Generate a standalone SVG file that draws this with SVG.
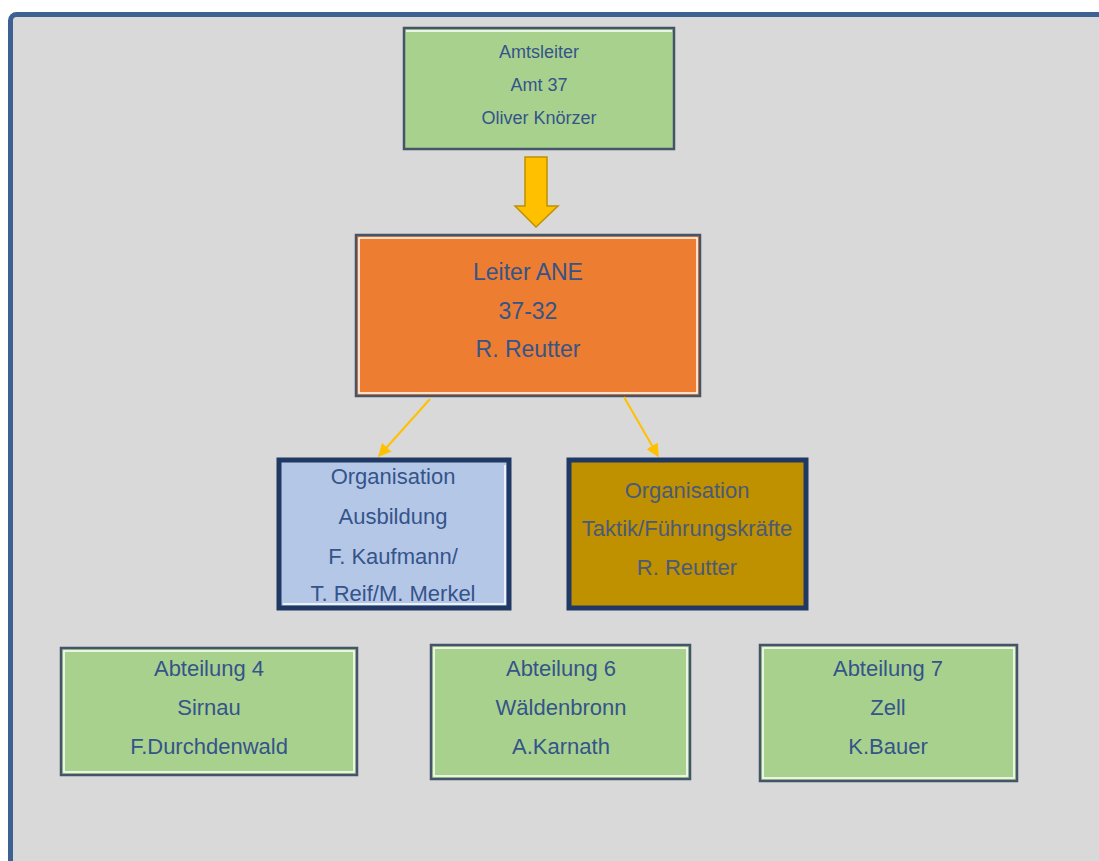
<svg xmlns="http://www.w3.org/2000/svg" width="1099" height="861" viewBox="0 0 1099 861">
<style>
.t{font-family:"Liberation Sans",Arial,sans-serif;fill:#34548a;text-anchor:middle;dominant-baseline:central}
.box{stroke:#44546a;stroke-width:2.5}
.inner{fill:none;stroke:#ffffff;stroke-width:1.5}
.org{stroke:#1f3864;stroke-width:5}
.green{fill:#a9d18e}
</style>
<defs>
<marker id="ah" viewBox="0 0 10 10" refX="9" refY="5" markerWidth="6.5" markerHeight="6.5" orient="auto">
<path d="M0,0 L10,5 L0,10 z" fill="#ffc000"/>
</marker>
</defs>
<rect x="0" y="0" width="1099" height="861" fill="#ffffff"/>
<rect x="10.5" y="14.5" width="1120" height="900" rx="6" fill="#d9d9d9" stroke="#3d6191" stroke-width="5"/>

<g id="amtsleiter">
<rect class="box green" x="404" y="28" width="270" height="121"/>
<line x1="406" y1="31" x2="672" y2="31" stroke="#fff" stroke-width="1.5"/>
<text class="t" x="539" y="52" font-size="18">Amtsleiter</text>
<text class="t" x="539" y="85" font-size="18">Amt 37</text>
<text class="t" x="539" y="118" font-size="18">Oliver Knörzer</text>
</g>

<g id="leiter-ane">
<rect class="box" x="356" y="235" width="344" height="161" fill="#ed7d31"/>
<rect class="inner" x="359" y="238" width="338" height="155"/>
<text class="t" x="528" y="272" font-size="23">Leiter ANE</text>
<text class="t" x="528" y="311" font-size="23">37-32</text>
<text class="t" x="528" y="349" font-size="23">R. Reutter</text>
</g>

<g id="org-ausbildung">
<rect class="org" x="279" y="460" width="230" height="148" fill="#b4c7e7"/>
<polyline points="283,604 505,604 505,465" fill="none" stroke="#fff" stroke-width="1.5"/>
<text class="t" x="393" y="476" font-size="22">Organisation</text>
<text class="t" x="393" y="516" font-size="22">Ausbildung</text>
<text class="t" x="393" y="556" font-size="22">F. Kaufmann/</text>
<text class="t" x="393" y="593" font-size="22">T. Reif/M. Merkel</text>
</g>

<g id="org-taktik">
<rect class="org" x="569" y="460" width="237" height="148" fill="#bf9000"/>
<text class="t" x="687" y="490" font-size="22" style="fill:#4a5a78">Organisation</text>
<text class="t" x="687" y="528" font-size="22" style="fill:#4a5a78">Taktik/Führungskräfte</text>
<text class="t" x="687" y="567" font-size="22" style="fill:#4a5a78">R. Reutter</text>
</g>

<g id="abteilung-4">
<rect class="box green" x="61" y="648" width="296" height="127"/>
<rect class="inner" x="64" y="651" width="290" height="121"/>
<text class="t" x="209" y="668" font-size="22">Abteilung 4</text>
<text class="t" x="209" y="707" font-size="22">Sirnau</text>
<text class="t" x="209" y="746" font-size="22">F.Durchdenwald</text>
</g>

<g id="abteilung-6">
<rect class="box green" x="431" y="645" width="259" height="134"/>
<rect class="inner" x="434" y="648" width="253" height="128"/>
<text class="t" x="561" y="668" font-size="22">Abteilung 6</text>
<text class="t" x="561" y="707" font-size="22">Wäldenbronn</text>
<text class="t" x="561" y="746" font-size="22">A.Karnath</text>
</g>

<g id="abteilung-7">
<rect class="box green" x="760" y="645" width="257" height="136"/>
<rect class="inner" x="763" y="648" width="251" height="130"/>
<text class="t" x="888" y="668" font-size="22">Abteilung 7</text>
<text class="t" x="888" y="707" font-size="22">Zell</text>
<text class="t" x="888" y="746" font-size="22">K.Bauer</text>
</g>

<g id="connectors">
<path d="M525,157 L547,157 L547,206 L558,206 L536,227 L515,206 L525,206 Z" fill="#ffc000" stroke="#bf9000" stroke-width="1.5"/>
<line x1="430" y1="399" x2="379" y2="456" stroke="#ffc000" stroke-width="2" marker-end="url(#ah)"/>
<line x1="624" y1="397" x2="658" y2="456" stroke="#ffc000" stroke-width="2" marker-end="url(#ah)"/>
</g>
</svg>
